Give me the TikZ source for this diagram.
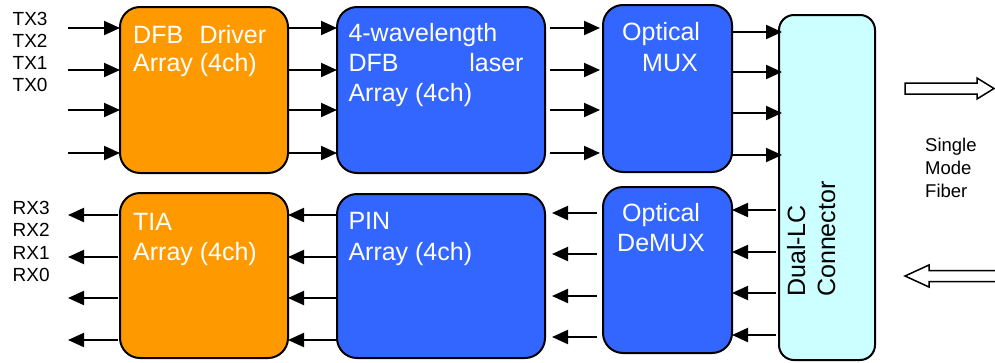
\documentclass[tikz,border=0pt]{standalone}
\usepackage{fontspec}
\setmainfont{Liberation Sans}
\usetikzlibrary{arrows.meta}
\definecolor{boxorange}{HTML}{FF9900}
\definecolor{boxblue}{HTML}{3366FF}
\definecolor{boxcyan}{HTML}{CCFFFF}
\tikzset{
  blk/.style={draw=black, line width=2pt, rounded corners=20pt, inner sep=0pt, outer sep=0pt},
  orangeblk/.style={blk, fill=boxorange},
  blueblk/.style={blk, fill=boxblue},
  cyanblk/.style={blk, fill=boxcyan, rounded corners=15pt},
  sig/.style={line width=2pt, -{Triangle[length=16pt,width=14pt]}},
  boxtxt/.style={anchor=base west, inner sep=0pt, text=white, font=\fontsize{25}{29}\selectfont},
  lbl/.style={anchor=base west, inner sep=0pt, font=\fontsize{19}{22}\selectfont},
  fibtxt/.style={anchor=base west, inner sep=0pt, font=\fontsize{18.5}{22}\selectfont},
  hollow/.style={draw=black, line width=1.5pt, fill=white, line join=miter},
}
\begin{document}
\begin{tikzpicture}[x=1pt,y=-1pt]
\useasboundingbox (0,0) rectangle (995,362);
\clip (0,0) rectangle (995,362);
% blocks
\node[orangeblk, minimum width=168pt, minimum height=166pt] (drv) at (204,90) {};
\node[orangeblk, minimum width=168pt, minimum height=165pt] (tia) at (204,275.5) {};
\node[blueblk, minimum width=208pt, minimum height=166pt] (las) at (441,90) {};
\node[blueblk, minimum width=208pt, minimum height=164pt] (pin) at (441,276) {};
\node[blueblk, minimum width=129pt, minimum height=167pt] (mux) at (667.5,88.5) {};
\node[blueblk, minimum width=129pt, minimum height=166pt] (dmx) at (667.5,270) {};
\node[cyanblk, minimum width=96pt, minimum height=345pt] (con) at (827,187.5) {};
% block texts
\node[boxtxt] (tdrv1) at (133,43.3) {\hbox to 133pt{DFB\hfill Driver}};
\node[boxtxt] (tdrv2) at (133,71.7) {Array (4ch)};
\node[boxtxt] (tlas1) at (348.3,41.7) {4-wavelength};
\node[boxtxt] (tlas2) at (348.3,71.7) {\hbox to 175pt{DFB\hfill laser}};
\node[boxtxt] (tlas3) at (348.3,101.7) {Array (4ch)};
\node[boxtxt] (ttia1) at (133,230) {TIA};
\node[boxtxt] (ttia2) at (133,260) {Array (4ch)};
\node[boxtxt] (tpin1) at (348.3,229.3) {PIN};
\node[boxtxt] (tpin2) at (348.3,260) {Array (4ch)};
\node[boxtxt] (tmux1) at (622,40.5) {Optical};
\node[boxtxt] (tmux2) at (642,71) {MUX};
\node[boxtxt] (tdmx1) at (622,221.5) {Optical};
\node[boxtxt] (tdmx2) at (617,251.5) {DeMUX};
\node[boxtxt, text=black, rotate=90] (tcon1) at (805,297) {Dual-LC};
\node[boxtxt, text=black, rotate=90] (tcon2) at (835,297) {Connector};
% side labels
\node[lbl] (tx3) at (12.5,25.5) {TX3};
\node[lbl] (tx2) at (12.5,47.5) {TX2};
\node[lbl] (tx1) at (12.5,69.5) {TX1};
\node[lbl] (tx0) at (12.5,91.5) {TX0};
\node[lbl] (rx3) at (12.5,214) {RX3};
\node[lbl] (rx2) at (12.5,236.5) {RX2};
\node[lbl] (rx1) at (12.5,259) {RX1};
\node[lbl] (rx0) at (12.5,281.5) {RX0};
\node[fibtxt] (f1) at (925,151) {Single};
\node[fibtxt] (f2) at (925,174) {Mode};
\node[fibtxt] (f3) at (925,197) {Fiber};
% transmit connectors
\foreach \y in {28,70,110,153} {
  \coordinate (in\y) at (68,\y);
  \draw[sig] (in\y) -- (drv.west |- in\y);
  \draw[sig] (drv.east |- in\y) -- (las.west |- in\y);
  \draw[sig] ([xshift=5pt]las.east |- in\y) -- ([xshift=-3pt]mux.west |- in\y);
}
\foreach \y in {32,72,113,155} {
  \coordinate (mx\y) at (736,\y);
  \draw[sig] (mux.east |- mx\y) -- ([xshift=3pt]con.west |- mx\y);
}
% receive connectors
\foreach \y in {210,252,293,335} {
  \coordinate (cx\y) at (776,\y);
  \draw[sig] (cx\y) -- (dmx.east |- cx\y);
}
\foreach \y in {213,254,296,337} {
  \coordinate (dx\y) at (597,\y);
  \draw[sig] (dx\y) -- ([xshift=7pt]pin.east |- dx\y);
}
\foreach \y in {215,257,298,340} {
  \coordinate (px\y) at (340,\y);
  \coordinate (out\y) at (68,\y);
  \draw[sig] (pin.west |- px\y) -- (tia.east |- px\y);
  \draw[sig] ([xshift=-2pt]tia.west |- px\y) -- (out\y);
}
% fiber arrows
\draw[hollow] (905,83) -- (977,83) -- (977,78) -- (994,88.5) -- (977,99) -- (977,94) -- (905,94) -- cycle;
\draw[hollow] (1000,270.5) -- (929,270.5) -- (929,265) -- (905,276) -- (929,287) -- (929,281.5) -- (1000,281.5);
\end{tikzpicture}
\end{document}
